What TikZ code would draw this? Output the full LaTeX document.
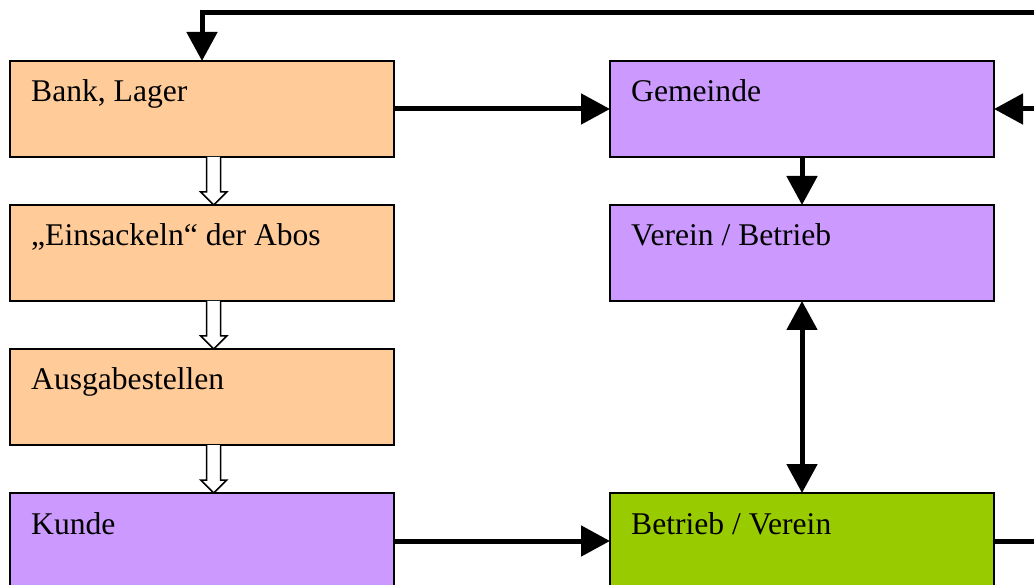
\documentclass[tikz,border=0pt]{standalone}
\usepackage{fontspec}
\setmainfont{Liberation Serif}
\usetikzlibrary{arrows.meta}
\definecolor{orangebox}{HTML}{FFCC99}
\definecolor{purplebox}{HTML}{CC99FF}
\definecolor{greenbox}{HTML}{99CC00}
\tikzset{
  box/.style={draw=black, line width=2pt, minimum width=384pt, minimum height=96pt, inner sep=0pt, outer sep=0pt, anchor=north west},
  lbl/.style={anchor=base west, inner sep=0pt, font=\fontsize{31.6}{38}\selectfont},
  arr/.style={line width=5pt, -{Triangle[length=29pt 0, width=30pt 0]}},
  darr/.style={line width=5pt, {Triangle[length=29pt 0, width=30pt 0]}-{Triangle[length=29pt 0, width=30pt 0]}},
  thick line/.style={line width=5pt},
  hollow/.style={draw=black, line width=1.5pt, fill=white, line join=miter},
}
\begin{document}
\begin{tikzpicture}[x=1pt, y=-1pt]
\useasboundingbox (0,0) rectangle (1034,585);
\clip (0,0) rectangle (1034,585);
\fill[white] (0,0) rectangle (1034,585);
% left column
\node[box, fill=orangebox] (bank) at (10,61) {};
\node[box, fill=orangebox] (eins) at (10,205) {};
\node[box, fill=orangebox] (ausg) at (10,349) {};
\node[box, fill=purplebox] (kunde) at (10,493) {};
% right column
\node[box, fill=purplebox] (gem) at (610,61) {};
\node[box, fill=purplebox] (verein) at (610,205) {};
\node[box, fill=greenbox] (betrieb) at (610,493) {};
% labels
\node[lbl] (tbank) at ([xshift=21pt, yshift=-41pt]bank.north west) {Bank, Lager};
\node[lbl] (teins) at ([xshift=21pt, yshift=-41pt]eins.north west) {„Einsackeln“ der Abos};
\node[lbl] (tausg) at ([xshift=21pt, yshift=-41pt]ausg.north west) {Ausgabestellen};
\node[lbl] (tkunde) at ([xshift=21pt, yshift=-41pt]kunde.north west) {Kunde};
\node[lbl] (tgem) at ([xshift=21pt, yshift=-41pt]gem.north west) {Gemeinde};
\node[lbl] (tverein) at ([xshift=21pt, yshift=-41pt]verein.north west) {Verein / Betrieb};
\node[lbl] (tbetrieb) at ([xshift=21pt, yshift=-41pt]betrieb.north west) {Betrieb / Verein};
% outside coordinates
\coordinate (fbin) at (1045,13);
\coordinate (gemin) at (1045,109);
\coordinate (betout) at (1045,541);
% connectors
\draw[arr] (fbin) -| (bank.north);
\draw[arr] (bank.east) -- (gem.west);
\draw[arr] (gemin) -- (gem.east);
\draw[arr] (gem.south) -- (verein.north);
\draw[darr] (verein.south) -- (betrieb.north);
\draw[arr] (kunde.east) -- (betrieb.west);
\draw[thick line] (betrieb.east) -- (betrieb.east -| betout);
% hollow arrows
\foreach \a in {bank, eins, ausg} {
  \draw[hollow] ([xshift=4.7pt]\a.south) -- ++(0,35) -- ++(-6,0) -- ++(13,13) -- ++(13,-13) -- ++(-6,0) -- ++(0,-35);
}
\end{tikzpicture}
\end{document}
